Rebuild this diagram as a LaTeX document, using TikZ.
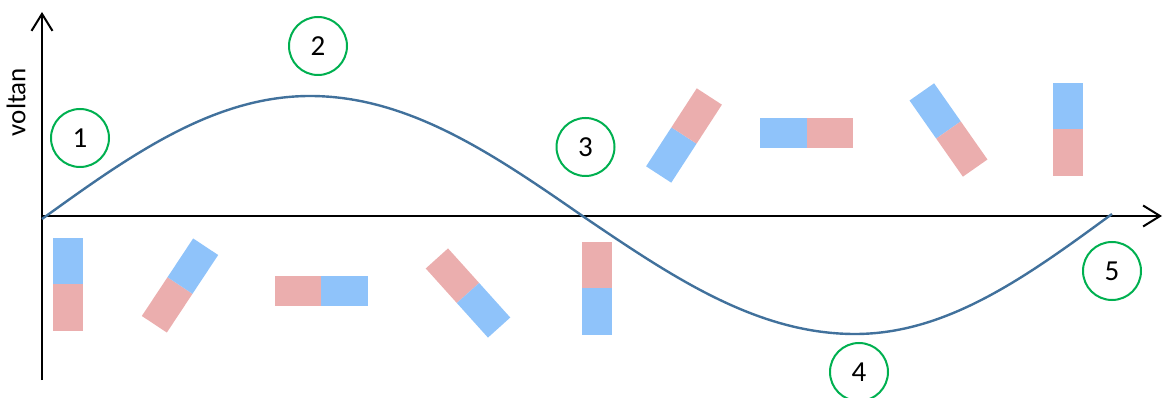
\documentclass[tikz,border=0pt]{standalone}
\usepackage{fontspec}
\setmainfont{Carlito}
\usetikzlibrary{arrows.meta}
\definecolor{magblue}{RGB}{143,195,250}
\definecolor{magpink}{RGB}{235,174,174}
\definecolor{curveblue}{RGB}{65,113,156}
\definecolor{ringgreen}{RGB}{0,176,80}
\newcommand\mymagnet[5]{%
  \begin{scope}[shift={(#1,#2)},rotate=#3]
    \fill[#4] (-46.5,-15) rectangle (0,15);
    \fill[#5] (0,-15) rectangle (46.5,15);
  \end{scope}}
\tikzset{
  axisline/.style={line width=2pt,-{Straight Barb[length=17pt,width=21pt,line width=2pt]}},
  ring/.style={circle,draw=ringgreen,line width=2pt,minimum size=58pt,inner sep=0pt,font=\fontsize{29}{32}\selectfont},
  wave/.style={draw=curveblue,line width=2.4pt},
}
\begin{document}
\begin{tikzpicture}[x=1pt,y=-1pt]
\useasboundingbox (0,0) rectangle (1163,398);
% magnets
\mymagnet{68}{284.5}{90}{magpink}{magblue}
\mymagnet{180}{285.5}{56.5}{magpink}{magblue}
\mymagnet{321}{291}{0}{magpink}{magblue}
\mymagnet{468}{293}{-48}{magpink}{magblue}
\mymagnet{597}{288.5}{-90}{magpink}{magblue}
\mymagnet{684}{135.5}{57}{magblue}{magpink}
\mymagnet{806.5}{133}{0}{magblue}{magpink}
\mymagnet{948.5}{130}{-55}{magblue}{magpink}
\mymagnet{1068}{129.5}{-90}{magblue}{magpink}
% axes
\coordinate (o) at (42,216);
\coordinate (ybot) at (42,380);
\coordinate (ytop) at (42,12);
\coordinate (xend) at (1162,216);
\draw[axisline] (ybot) -- (ytop);
\draw[axisline] (o) -- (xend);
\node[rotate=90,font=\fontsize{27}{30}\selectfont,inner sep=0pt] (vlabel) at (16,102) {voltan};
% wave
\coordinate (w0) at (42,219);
\coordinate (w1) at (310,96);
\coordinate (w2) at (584,217);
\coordinate (w3) at (855,334);
\coordinate (w4) at (1112,214);
\draw[wave] (w0) .. controls (129.5,155.9) and (213,96) .. (w1)
  .. controls (409,96) and (494.6,155) .. (w2)
  .. controls (672.5,277) and (756.9,334) .. (w3)
  .. controls (948,334) and (1028.1,275.5) .. (w4);
% numbered rings
\node[ring] (n1) at (80,138) {1};
\node[ring] (n2) at (318,46) {2};
\node[ring] (n3) at (585.5,147) {3};
\node[ring] (n4) at (859,372) {4};
\node[ring] (n5) at (1112,271) {5};
\end{tikzpicture}
\end{document}
